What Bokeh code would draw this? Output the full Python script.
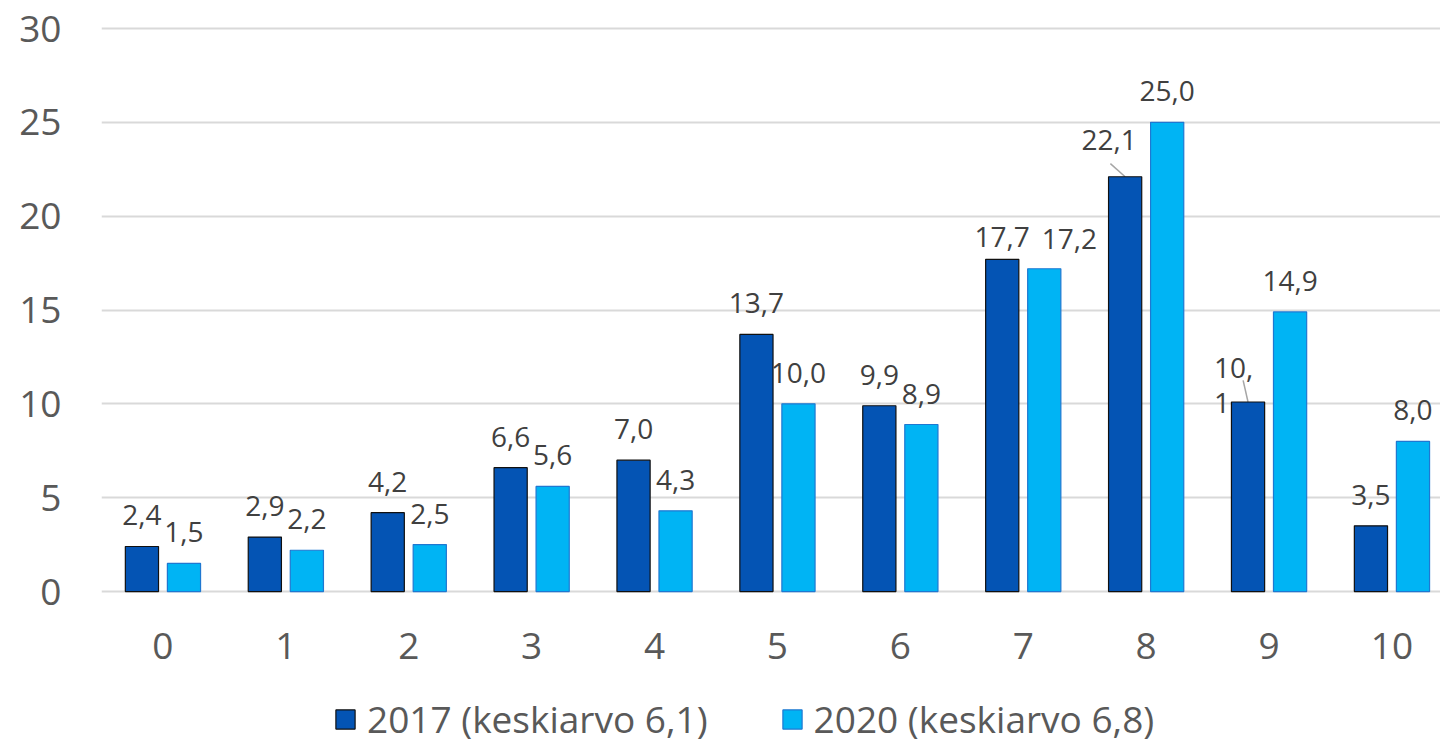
import numpy as np
from bokeh.plotting import figure
from bokeh.models import (ColumnDataSource, Range1d, FixedTicker, LabelSet, Label,
                          Legend, LegendItem)
from bokeh.transform import dodge
from bokeh.core.properties import value
from bokeh.embed import file_html
from bokeh.resources import INLINE

categories = ["0", "1", "2", "3", "4", "5", "6", "7", "8", "9", "10"]
values_2017 = [2.4, 2.9, 4.2, 6.6, 7.0, 13.7, 9.9, 17.7, 22.1, 10.1, 3.5]
values_2020 = [1.5, 2.2, 2.5, 5.6, 4.3, 10.0, 8.9, 17.2, 25.0, 14.9, 8.0]
series_names = ["2017 (keskiarvo 6,1)", "2020 (keskiarvo 6,8)"]
y_ticks = [0, 5, 10, 15, 20, 25, 30]

FONT = "Open Sans"
DARK = "#0454B4"
LIGHT = "#00B4F4"
TICK_COLOR = "#595959"
LABEL_COLOR = "#404040"

def fmt(v):
    return f"{v:.1f}".replace(".", ",")

x = np.arange(len(categories))
OFF = 0.171
WIDTH = 0.27

# the 2017 label at category 9 is wrapped onto two lines in the reference
wrap_2017 = {9}
lab17 = ["" if i in wrap_2017 else fmt(v) for i, v in enumerate(values_2017)]
lab20 = [fmt(v) for v in values_2020]
# per-label pixel nudges (style only)
n = len(categories)
dx17 = [0] * n
dy17 = [21] * n
dx20 = [0] * n
dy20 = [21] * n
dx17[8] = -16
dy17[8] = 27
dy17[7] = 12
dx20[7] = 25
dy20[7] = 20

src = ColumnDataSource(dict(x=x, v17=values_2017, v20=values_2020,
                            l17=lab17, l20=lab20, dx17=dx17, dy17=dy17,
                            dx20=dx20, dy20=dy20, cat=categories,
                            zero=[0] * n))

# frame spans the whole height below the top border; the region below 0
# holds the category labels and the legend
p = figure(width=1440, height=744, frame_width=1339, frame_height=719,
           x_range=Range1d(-0.5, 10.395), y_range=Range1d(-8.15, 30.16),
           output_backend="svg", toolbar_location=None, x_axis_location=None,
           min_border_left=101, min_border_top=25, min_border_right=0,
           min_border_bottom=0)
p.outline_line_color = None
p.background_fill_color = "white"

p.xgrid.grid_line_color = None
p.ygrid.ticker = FixedTicker(ticks=y_ticks)
p.ygrid.grid_line_color = "#D9D9D9"
p.ygrid.grid_line_width = 2

# leader lines for the displaced 2017 labels (categories 8 and 9)
lead_idx = [8, 9]
lead_dx = [-0.12, -0.04]
lead_dy = [0.7, 1.15]
p.segment(x0=[x[i] - OFF + d for i, d in zip(lead_idx, lead_dx)],
          y0=[values_2017[i] + d for i, d in zip(lead_idx, lead_dy)],
          x1=[x[i] - OFF for i in lead_idx],
          y1=[values_2017[i] for i in lead_idx],
          line_color="#A6A6A6", line_width=1.5)

r17 = p.vbar(x=dodge("x", -OFF, range=p.x_range), top="v17", bottom=0, width=WIDTH,
             source=src, fill_color=DARK, line_color="#101010", line_width=1.2)
r20 = p.vbar(x=dodge("x", OFF, range=p.x_range), top="v20", bottom=0, width=WIDTH,
             source=src, fill_color=LIGHT, line_color="#1F78D1", line_width=1.2)

ls17 = LabelSet(x=dodge("x", -OFF, range=p.x_range), y="v17", text="l17", source=src,
                x_offset="dx17", y_offset="dy17", text_align="center",
                text_baseline="alphabetic", text_font=value(FONT),
                text_font_size=value("28px"), text_color=LABEL_COLOR)
ls20 = LabelSet(x=dodge("x", OFF, range=p.x_range), y="v20", text="l20", source=src,
                x_offset="dx20", y_offset="dy20", text_align="center",
                text_baseline="alphabetic", text_font=value(FONT),
                text_font_size=value("28px"), text_color=LABEL_COLOR)
p.add_layout(ls17)
p.add_layout(ls20)

for i in wrap_2017:
    head, tail = fmt(values_2017[i]).split(",")
    for txt, dy in ((head + ",", 34), (tail, -1)):
        p.add_layout(Label(x=x[i] - OFF, y=values_2017[i], text=txt,
                           x_offset=-34, y_offset=dy, text_align="left",
                           text_baseline="alphabetic", text_font=FONT,
                           text_font_size="28px", text_color=LABEL_COLOR))

# category labels under the zero line
cat_labels = LabelSet(x="x", y="zero", text="cat", source=src, y_offset=-54,
                      text_align="center", text_baseline="middle",
                      text_font=value(FONT), text_font_size=value("37px"),
                      text_color=TICK_COLOR)
p.add_layout(cat_labels)

# y axis
p.yaxis.ticker = FixedTicker(ticks=y_ticks)
p.yaxis.axis_line_color = None
p.yaxis.major_tick_line_color = None
p.yaxis.minor_tick_line_color = None
p.yaxis.major_tick_out = 0
p.yaxis.major_label_text_font = FONT
p.yaxis.major_label_text_font_size = "37px"
p.yaxis.major_label_text_color = TICK_COLOR
p.yaxis.major_label_standoff = 40

legend = Legend(items=[LegendItem(label=series_names[0], renderers=[r17]),
                       LegendItem(label=series_names[1], renderers=[r20])],
                orientation="horizontal", location=(232, 0),
                label_text_font=FONT, label_text_font_size="37px",
                label_text_color=TICK_COLOR, glyph_width=24, glyph_height=24,
                label_standoff=10, spacing=72, border_line_color=None,
                background_fill_alpha=0, padding=0, margin=0)
p.add_layout(legend)

open("out.html", "w").write(file_html(p, INLINE))
